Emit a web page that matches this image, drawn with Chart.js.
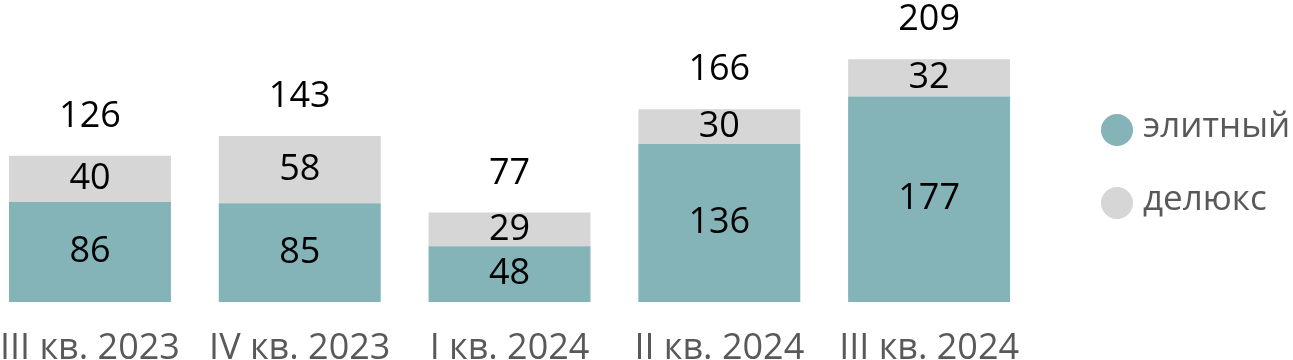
<!DOCTYPE html>
<html>
<head>
<meta charset="utf-8">
<script src="https://cdn.jsdelivr.net/npm/chart.js@4.4.1/dist/chart.umd.min.js"></script>
<style>
  html, body { margin: 0; padding: 0; background: #fff; overflow: hidden; }
  #wrap { position: absolute; left: -17px; top: 0; width: 1310px; height: 360px; }
</style>
</head>
<body>
<div id="wrap"><canvas id="chart"></canvas></div>
<script>
// ----- data -----
const categories = ["III кв. 2023", "IV кв. 2023", "I кв. 2024", "II кв. 2024", "III кв. 2024"];
const elite = [86, 85, 48, 136, 177];
const deluxe = [40, 58, 29, 30, 32];
const totals = [126, 143, 77, 166, 209];
const seriesNames = ["элитный", "делюкс"];
const colors = ["#84B3B8", "#D6D6D6"];

const FONT = "'Open Sans', sans-serif";

// labels inside the segments and totals on top
const labelPlugin = {
  id: 'labels',
  afterDatasetsDraw(chart) {
    const ctx = chart.ctx;
    ctx.save();
    ctx.fillStyle = '#000';
    ctx.textAlign = 'center';
    ctx.textBaseline = 'middle';
    ctx.font = '36px ' + FONT;
    chart.data.datasets.forEach((ds, di) => {
      chart.getDatasetMeta(di).data.forEach((bar, i) => {
        const mid = (bar.y + bar.base) / 2;
        ctx.fillText(String(ds.data[i]), bar.x, mid);
      });
    });
    const top = chart.getDatasetMeta(1).data;
    top.forEach((bar, i) => {
      ctx.fillText(String(totals[i]), bar.x, bar.y - 39);
    });
    ctx.restore();
  }
};

// legend on the right, round markers
const legendPlugin = {
  id: 'sideLegend',
  afterDraw(chart) {
    const ctx = chart.ctx;
    const ys = [130, 203];
    ctx.save();
    ctx.font = '35px ' + FONT;
    ctx.textBaseline = 'middle';
    ctx.textAlign = 'left';
    seriesNames.forEach((name, i) => {
      ctx.beginPath();
      ctx.arc(1134, ys[i], 16, 0, Math.PI * 2);
      ctx.fillStyle = colors[i];
      ctx.fill();
      ctx.fillStyle = '#595959';
      ctx.fillText(name, 1160, ys[i] - 3);
    });
    ctx.restore();
  }
};

new Chart(document.getElementById('chart'), {
  type: 'bar',
  data: {
    labels: categories,
    datasets: [
      { label: seriesNames[0], data: elite, backgroundColor: colors[0] },
      { label: seriesNames[1], data: deluxe, backgroundColor: colors[1] }
    ]
  },
  options: {
    responsive: true,
    maintainAspectRatio: false,
    animation: false,
    layout: { padding: { left: 0, right: 259, top: 0, bottom: 0 } },
    datasets: { bar: { categoryPercentage: 1, barPercentage: 0.772 } },
    plugins: { legend: { display: false }, tooltip: { enabled: false } },
    scales: {
      x: {
        stacked: true,
        grid: { display: false },
        border: { display: false },
        ticks: { color: '#595959', font: { family: FONT, size: 36 }, padding: 17, maxRotation: 0, autoSkip: false },
        afterFit(scale) { scale.height = 58; }
      },
      y: {
        stacked: true,
        display: false,
        min: 0,
        max: 260
      }
    }
  },
  plugins: [labelPlugin, legendPlugin]
});
</script>
</body>
</html>
